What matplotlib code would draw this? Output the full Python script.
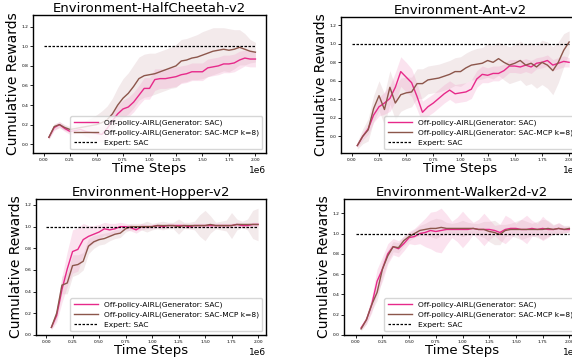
import numpy as np
import matplotlib
matplotlib.use("Agg")
import matplotlib.pyplot as plt

steps = [0.05, 0.10, 0.15, 0.20, 0.25, 0.30, 0.35, 0.40, 0.45, 0.50,
         0.55, 0.60, 0.65, 0.70, 0.75, 0.80, 0.85, 0.90, 0.95, 1.00,
         1.05, 1.10, 1.15, 1.20, 1.25, 1.30, 1.35, 1.40, 1.45, 1.50,
         1.55, 1.60, 1.65, 1.70, 1.75, 1.80, 1.85, 1.90, 1.95, 2.00]

titles = ["Environment-HalfCheetah-v2", "Environment-Ant-v2",
          "Environment-Hopper-v2", "Environment-Walker2d-v2"]
labels = ["Off-policy-AIRL(Generator: SAC)",
          "Off-policy-AIRL(Generator: SAC-MCP k=8)",
          "Expert: SAC"]
expert_level = 1.0

# HalfCheetah
hc_sac = [0.07, 0.17, 0.20, 0.16, 0.13, 0.14, 0.15, 0.13, 0.12, 0.11,
          0.10, 0.16, 0.24, 0.31, 0.36, 0.38, 0.43, 0.50, 0.57, 0.57,
          0.66, 0.67, 0.67, 0.68, 0.69, 0.71, 0.72, 0.74, 0.74, 0.74,
          0.78, 0.79, 0.80, 0.82, 0.82, 0.83, 0.86, 0.88, 0.87, 0.87]
hc_sac_sd = [0.02, 0.03, 0.03, 0.03, 0.03, 0.03, 0.04, 0.05, 0.06, 0.07,
             0.08, 0.08, 0.08, 0.09, 0.09, 0.10, 0.10, 0.10, 0.11, 0.11,
             0.11, 0.10, 0.10, 0.10, 0.10, 0.09, 0.09, 0.09, 0.09, 0.09,
             0.09, 0.09, 0.09, 0.09, 0.09, 0.09, 0.09, 0.08, 0.08, 0.08]
hc_mcp = [0.07, 0.18, 0.20, 0.17, 0.15, 0.16, 0.17, 0.18, 0.19, 0.20,
          0.22, 0.25, 0.31, 0.40, 0.47, 0.52, 0.59, 0.67, 0.70, 0.71,
          0.72, 0.74, 0.76, 0.78, 0.80, 0.85, 0.86, 0.88, 0.89, 0.91,
          0.93, 0.95, 0.96, 0.97, 0.96, 0.97, 0.99, 0.97, 0.95, 0.94]
hc_mcp_sd = [0.02, 0.03, 0.03, 0.03, 0.03, 0.04, 0.05, 0.06, 0.08, 0.10,
             0.12, 0.14, 0.16, 0.18, 0.20, 0.21, 0.22, 0.22, 0.22, 0.22,
             0.21, 0.21, 0.21, 0.21, 0.22, 0.22, 0.22, 0.22, 0.23, 0.24,
             0.24, 0.24, 0.23, 0.22, 0.22, 0.20, 0.18, 0.16, 0.12, 0.10]

# Ant
ant_sac = [-0.10, 0.00, 0.08, 0.23, 0.32, 0.36, 0.41, 0.53, 0.70, 0.64,
           0.58, 0.43, 0.26, 0.32, 0.36, 0.41, 0.46, 0.50, 0.46, 0.47,
           0.48, 0.51, 0.62, 0.67, 0.66, 0.68, 0.68, 0.71, 0.76, 0.76,
           0.75, 0.77, 0.75, 0.79, 0.80, 0.82, 0.77, 0.79, 0.81, 0.80]
ant_sac_sd = [0.02, 0.04, 0.06, 0.08, 0.10, 0.12, 0.14, 0.16, 0.16, 0.16,
              0.15, 0.14, 0.12, 0.10, 0.10, 0.10, 0.10, 0.10, 0.10, 0.10,
              0.10, 0.10, 0.09, 0.09, 0.08, 0.08, 0.08, 0.07, 0.07, 0.07,
              0.07, 0.07, 0.07, 0.06, 0.06, 0.06, 0.06, 0.06, 0.06, 0.05]
ant_mcp = [-0.10, 0.00, 0.07, 0.30, 0.44, 0.29, 0.53, 0.36, 0.45, 0.47,
           0.48, 0.57, 0.57, 0.61, 0.62, 0.63, 0.65, 0.67, 0.70, 0.70,
           0.74, 0.77, 0.78, 0.79, 0.82, 0.80, 0.84, 0.80, 0.77, 0.79,
           0.82, 0.77, 0.79, 0.75, 0.80, 0.77, 0.71, 0.80, 0.93, 1.02]
ant_mcp_sd = [0.04, 0.08, 0.12, 0.14, 0.16, 0.17, 0.18, 0.18, 0.18, 0.17,
              0.16, 0.16, 0.16, 0.15, 0.15, 0.15, 0.15, 0.15, 0.15, 0.16,
              0.16, 0.16, 0.17, 0.17, 0.18, 0.18, 0.18, 0.19, 0.20, 0.20,
              0.21, 0.22, 0.22, 0.23, 0.24, 0.25, 0.26, 0.22, 0.18, 0.12]

# Hopper
hop_sac = [0.07, 0.18, 0.42, 0.61, 0.77, 0.79, 0.88, 0.91, 0.93, 0.95,
           0.98, 0.97, 0.98, 1.00, 1.00, 0.99, 0.97, 1.00, 1.00, 1.00,
           1.01, 1.00, 1.01, 1.01, 1.01, 1.01, 1.00, 1.01, 1.01, 1.01,
           1.01, 1.01, 1.01, 1.01, 1.01, 1.02, 1.01, 1.01, 1.02, 1.02]
hop_sac_sd = [0.02, 0.06, 0.12, 0.16, 0.20, 0.20, 0.15, 0.10, 0.08, 0.07,
              0.06, 0.06, 0.05, 0.04, 0.03, 0.03, 0.03, 0.03, 0.02, 0.02,
              0.02, 0.02, 0.02, 0.02, 0.02, 0.02, 0.02, 0.02, 0.02, 0.02,
              0.02, 0.02, 0.02, 0.02, 0.02, 0.02, 0.02, 0.02, 0.02, 0.02]
hop_mcp = [0.07, 0.20, 0.46, 0.48, 0.64, 0.65, 0.68, 0.82, 0.86, 0.88,
           0.89, 0.91, 0.93, 0.94, 0.98, 1.00, 1.00, 1.00, 1.00, 1.00,
           1.01, 1.01, 1.01, 1.01, 1.00, 1.01, 1.01, 1.01, 1.01, 1.01,
           1.02, 1.01, 1.01, 1.01, 1.01, 1.02, 1.02, 1.02, 1.02, 1.02]
hop_mcp_sd = [0.02, 0.05, 0.08, 0.10, 0.10, 0.09, 0.08, 0.07, 0.06, 0.05,
              0.05, 0.04, 0.04, 0.04, 0.03, 0.03, 0.03, 0.03, 0.05, 0.03,
              0.03, 0.04, 0.03, 0.03, 0.07, 0.03, 0.03, 0.04, 0.10, 0.14,
              0.08, 0.03, 0.04, 0.05, 0.12, 0.05, 0.03, 0.05, 0.13, 0.15]

# Walker2d
wk_sac = [0.07, 0.15, 0.30, 0.53, 0.65, 0.80, 0.87, 0.85, 0.90, 0.96,
          0.97, 1.00, 1.01, 1.03, 1.02, 1.03, 1.04, 1.04, 1.04, 1.04,
          1.04, 1.05, 1.04, 1.04, 1.04, 1.03, 1.01, 1.04, 1.05, 1.05,
          1.04, 1.04, 1.05, 1.04, 1.05, 1.04, 1.04, 1.05, 1.04, 1.04]
wk_sac_sd = [0.02, 0.04, 0.08, 0.12, 0.12, 0.10, 0.08, 0.08, 0.07, 0.06,
             0.08, 0.10, 0.14, 0.18, 0.20, 0.22, 0.15, 0.08, 0.12, 0.18,
             0.12, 0.06, 0.10, 0.16, 0.10, 0.05, 0.08, 0.14, 0.10, 0.05,
             0.10, 0.14, 0.08, 0.06, 0.12, 0.08, 0.04, 0.06, 0.03, 0.03]
wk_mcp = [0.06, 0.15, 0.30, 0.42, 0.65, 0.78, 0.87, 0.86, 0.93, 0.97,
          1.00, 1.03, 1.04, 1.05, 1.05, 1.06, 1.05, 1.05, 1.05, 1.05,
          1.05, 1.05, 1.04, 1.04, 1.02, 1.01, 0.99, 1.03, 1.04, 1.04,
          1.04, 1.04, 1.04, 1.04, 1.04, 1.05, 1.04, 1.05, 1.04, 1.05]
wk_mcp_sd = [0.02, 0.04, 0.06, 0.08, 0.08, 0.06, 0.05, 0.05, 0.05, 0.04,
             0.04, 0.05, 0.06, 0.08, 0.10, 0.08, 0.06, 0.05, 0.06, 0.08,
             0.06, 0.05, 0.06, 0.08, 0.10, 0.12, 0.10, 0.06, 0.06, 0.08,
             0.10, 0.08, 0.06, 0.08, 0.10, 0.08, 0.05, 0.05, 0.04, 0.03]

panels = [
    (hc_sac, hc_sac_sd, hc_mcp, hc_mcp_sd),
    (ant_sac, ant_sac_sd, ant_mcp, ant_mcp_sd),
    (hop_sac, hop_sac_sd, hop_mcp, hop_mcp_sd),
    (wk_sac, wk_sac_sd, wk_mcp, wk_mcp_sd),
]

W, H = 572, 362
# pixel boxes: left, top, right, bottom
boxes = [(33, 15, 266, 153), (341, 17, 580, 153),
         (36, 199, 266, 335), (344, 199, 580, 335)]
ylims = [(-0.09, 1.32), (-0.18, 1.29), (0.0, 1.255), (0.0, 1.34)]
xlims = [(-0.1e6, 2.1e6), (-0.1e6, 2.1e6), (-0.095e6, 2.075e6), (-0.11e6, 2.1e6)]

pink = "#e7298a"
brown = "#8c564b"

fig = plt.figure(figsize=(W / 100, H / 100), dpi=100)
x = np.array(steps) * 1e6
for i, (s, ssd, m, msd) in enumerate(panels):
    l, t, r, b = boxes[i]
    ax = fig.add_axes([l / W, 1 - b / H, (r - l) / W, (b - t) / H])
    s = np.array(s); ssd = np.array(ssd); m = np.array(m); msd = np.array(msd)
    ax.fill_between(x, m - msd, m + msd, color="#c9a0a8", alpha=0.22, lw=0)
    ax.fill_between(x, s - ssd, s + ssd, color="#f29cc8", alpha=0.28, lw=0)
    ax.plot(x, s, color=pink, lw=1.0, label=labels[0])
    ax.plot(x, m, color=brown, lw=1.0, label=labels[1])
    ax.plot([0, 2e6], [expert_level, expert_level], color="black", lw=0.9,
            ls=(0, (2, 1.2)), label=labels[2])
    ax.set_xlim(*xlims[i])
    ax.set_ylim(*ylims[i])
    ax.set_xticks(np.arange(0, 2.01e6, 0.25e6))
    ax.set_yticks(np.arange(0, 1.21, 0.2))
    ax.tick_params(labelsize=3.2, length=2, width=0.6, pad=1.5)
    ax.xaxis.get_offset_text().set_fontsize(6.5)
    ax.set_title(titles[i], fontsize=9.5, pad=2)
    ax.set_xlabel("Time Steps", fontsize=9.5, labelpad=0)
    ax.set_ylabel("Cumulative Rewards", fontsize=10, labelpad=1)
    for sp in ax.spines.values():
        sp.set_linewidth(1.0)
    ax.legend(loc="lower right", fontsize=5.4, handlelength=3.2,
              borderpad=0.45, labelspacing=0.45, framealpha=0.8)

fig.savefig("out.png", dpi=100)
